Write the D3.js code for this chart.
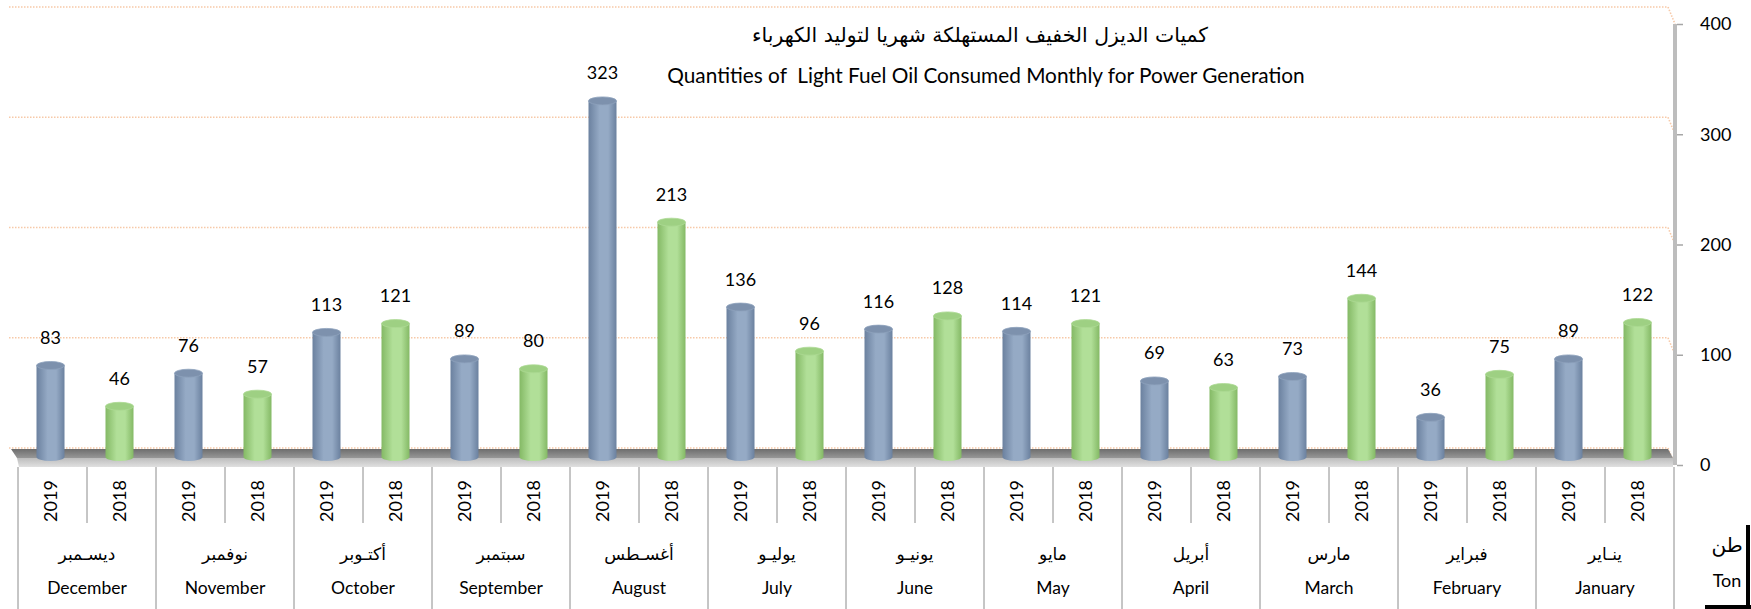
<!DOCTYPE html>
<html>
<head>
<meta charset="utf-8">
<script src="https://cdn.jsdelivr.net/npm/d3@7"></script>
<style>
  html, body { margin: 0; padding: 0; background: #ffffff; }
  svg { display: block; }
  text { font-family: Lato, "Open Sans", sans-serif; fill: #000; }
  .ar { font-family: "DejaVu Sans", "Noto Sans", sans-serif; }
</style>
</head>
<body>
<svg id="chart" width="1751" height="609"></svg>
<script>
// ---------------- DATA ----------------
const monthsEn = ["December","November","October","September","August","July","June","May","April","March","February","January"];
const monthsAr = ["ديسـمبر","نوفمبر","أكتـوبر","سبتمبر","أغسـطس","يوليـو","يونيـو","مايو","أبريل","مارس","فبراير","ينـاير"];
const years = ["2019","2018"];
const values2019 = [83,76,113,89,323,136,116,114,69,73,36,89];
const values2018 = [46,57,121,80,213,96,128,121,63,144,75,122];
const yTicks = [0,100,200,300,400];
const titleAr = "كميات الديزل الخفيف المستهلكة شهريا لتوليد الكهرباء";
const titleEn = "Quantities of  Light Fuel Oil Consumed Monthly for Power Generation";
const unitAr = "طن";
const unitEn = "Ton";

// ---------------- LAYOUT ----------------
const svg = d3.select("#chart");
const x0 = d3.scaleBand().domain(monthsEn).range([18, 1674]).padding(0);
const x1 = d3.scaleBand().domain(years).range([0, x0.bandwidth()]).padding(0);
const y = d3.scaleLinear().domain([0, 400]).range([465, 24]);
const depthX = -7, depthY = -17;       // back wall offset
const midX = -2, midY = -8;            // bar plane offset
const axisX = 1675;

const defs = svg.append("defs");
function cylGrad(id, edge, mid) {
  const g = defs.append("linearGradient").attr("id", id).attr("x1", "0").attr("x2", "1").attr("y1", "0").attr("y2", "0");
  g.append("stop").attr("offset", "0%").attr("stop-color", edge);
  g.append("stop").attr("offset", "40%").attr("stop-color", mid);
  g.append("stop").attr("offset", "70%").attr("stop-color", mid);
  g.append("stop").attr("offset", "100%").attr("stop-color", edge);
}
cylGrad("gBlue", "#6b819f", "#95aac5");
cylGrad("gGreen", "#84b965", "#b1df98");
const fg = defs.append("linearGradient").attr("id", "gFloor").attr("x1", "0").attr("x2", "0").attr("y1", "0").attr("y2", "1");
fg.append("stop").attr("offset", "0%").attr("stop-color", "#6e6e6e");
fg.append("stop").attr("offset", "100%").attr("stop-color", "#979797");
const ff = defs.append("linearGradient").attr("id", "gFront").attr("x1", "0").attr("x2", "0").attr("y1", "0").attr("y2", "1");
ff.append("stop").attr("offset", "0%").attr("stop-color", "#bdbdbd");
ff.append("stop").attr("offset", "100%").attr("stop-color", "#e0e0e0");

// ---------------- BACK WALL GRIDLINES ----------------
const grid = svg.append("g");
grid.selectAll("path").data(yTicks).join("path")
  .attr("d", t => {
    const yb = y(t) + depthY;
    return `M9,${yb} L${axisX + depthX},${yb} L${axisX},${y(t)}`;
  })
  .attr("fill", "none")
  .attr("stroke", "#f7c9a8")
  .attr("stroke-width", 1.6)
  .attr("stroke-dasharray", "1.5,1.5");

// ---------------- FLOOR ----------------
const fy0 = y(0) + depthY + 1, fy1 = y(0) - 7, fy2 = y(0) + 2;
svg.append("path")
  .attr("d", `M11,${fy0} L${axisX + depthX},${fy0} L${axisX - 2},${fy1} L17,${fy1} Z`)
  .attr("fill", "url(#gFloor)");
svg.append("path")
  .attr("d", `M17,${fy1} L${axisX - 2},${fy1} L${axisX - 2},${fy2} L19,${fy2} Z`)
  .attr("fill", "url(#gFront)");

// ---------------- SIDE WALL / AXIS ----------------
svg.append("rect").attr("x", axisX - 2).attr("y", y(400)).attr("width", 4).attr("height", y(0) - y(400))
  .attr("fill", "#bdbdbd");
const yAxis = d3.axisRight(y).tickValues(yTicks).tickSize(6).tickPadding(17).tickFormat(d3.format("d"));
const ya = svg.append("g").attr("transform", `translate(${axisX + 2},0)`).call(yAxis);
ya.select(".domain").remove();
ya.selectAll(".tick line").attr("stroke", "#a6a6a6").attr("stroke-width", 1.5);
ya.selectAll(".tick text").attr("font-size", 18).attr("font-family", "Lato, sans-serif").attr("fill", "#000");

// ---------------- BARS (CYLINDERS) ----------------
const rows = [];
monthsEn.forEach((m, i) => {
  rows.push({ month: m, year: "2019", v: values2019[i] });
  rows.push({ month: m, year: "2018", v: values2018[i] });
});
const rx = 14, ry = 4;
const bars = svg.append("g").selectAll("g").data(rows).join("g");
bars.each(function (d) {
  const g = d3.select(this);
  const cx = x0(d.month) + x1(d.year) + x1.bandwidth() / 2 + midX;
  const base = y(0) + midY;
  const top = y(d.v) + midY;
  const blue = d.year === "2019";
  g.append("path")
    .attr("d", `M${cx - rx},${top} L${cx - rx},${base} A${rx},${ry} 0 0 0 ${cx + rx},${base} L${cx + rx},${top} Z`)
    .attr("fill", blue ? "url(#gBlue)" : "url(#gGreen)");
  g.append("ellipse").attr("cx", cx).attr("cy", top).attr("rx", rx).attr("ry", ry)
    .attr("fill", blue ? "#7d91ad" : "#9ed083")
    .attr("stroke", blue ? "#8ea2bd" : "#acd993").attr("stroke-width", 0.8);
  g.append("text").attr("x", cx).attr("y", top - 26)
    .attr("text-anchor", "middle").attr("dominant-baseline", "middle")
    .attr("font-size", 18).text(d.v);
});

// ---------------- CATEGORY AXIS ----------------
const cat = svg.append("g");
const monthEdges = monthsEn.map(m => x0(m)).concat([x0.range()[1]]);
cat.selectAll("line.full").data(monthEdges).join("line").attr("class", "full")
  .attr("x1", d => d).attr("x2", d => d).attr("y1", y(0) + 2).attr("y2", 609)
  .attr("stroke", "#8c8c8c").attr("stroke-width", 1);
cat.selectAll("line.half").data(monthsEn).join("line").attr("class", "half")
  .attr("x1", m => x0(m) + x1("2018")).attr("x2", m => x0(m) + x1("2018"))
  .attr("y1", y(0) + 2).attr("y2", 523)
  .attr("stroke", "#8c8c8c").attr("stroke-width", 1);
cat.selectAll("text.yr").data(rows).join("text").attr("class", "yr")
  .attr("transform", d => `translate(${x0(d.month) + x1(d.year) + x1.bandwidth() / 2},501) rotate(-90)`)
  .attr("text-anchor", "middle").attr("dominant-baseline", "middle")
  .attr("font-size", 18).text(d => d.year);
cat.selectAll("text.mar").data(monthsEn).join("text").attr("class", "mar ar")
  .attr("x", m => x0(m) + x0.bandwidth() / 2).attr("y", 555)
  .attr("text-anchor", "middle").attr("dominant-baseline", "middle")
  .attr("font-size", 17).text((m, i) => monthsAr[i]);
cat.selectAll("text.men").data(monthsEn).join("text").attr("class", "men")
  .attr("x", m => x0(m) + x0.bandwidth() / 2).attr("y", 590)
  .attr("text-anchor", "middle").attr("dominant-baseline", "middle")
  .attr("font-size", 17.5).text(m => m);

// ---------------- UNIT BOX ----------------
svg.append("line").attr("x1", 1748).attr("x2", 1748).attr("y1", 525).attr("y2", 609)
  .attr("stroke", "#000").attr("stroke-width", 4);
svg.append("line").attr("x1", 1705).attr("x2", 1751).attr("y1", 607).attr("y2", 607)
  .attr("stroke", "#000").attr("stroke-width", 4);
svg.append("text").attr("class", "ar").attr("x", 1727).attr("y", 546)
  .attr("text-anchor", "middle").attr("dominant-baseline", "middle").attr("font-size", 20).text(unitAr);
svg.append("text").attr("x", 1727).attr("y", 582)
  .attr("text-anchor", "middle").attr("dominant-baseline", "middle").attr("font-size", 18).text(unitEn);

// ---------------- TITLES ----------------
svg.append("text").attr("class", "ar").attr("x", 980).attr("y", 36)
  .attr("text-anchor", "middle").attr("dominant-baseline", "middle").attr("font-size", 20.4).text(titleAr);
svg.append("text").attr("x", 986).attr("y", 78)
  .attr("text-anchor", "middle").attr("dominant-baseline", "middle").attr("font-size", 20.8)
  .attr("xml:space", "preserve").style("white-space", "pre").text(titleEn);
</script>
</body>
</html>
